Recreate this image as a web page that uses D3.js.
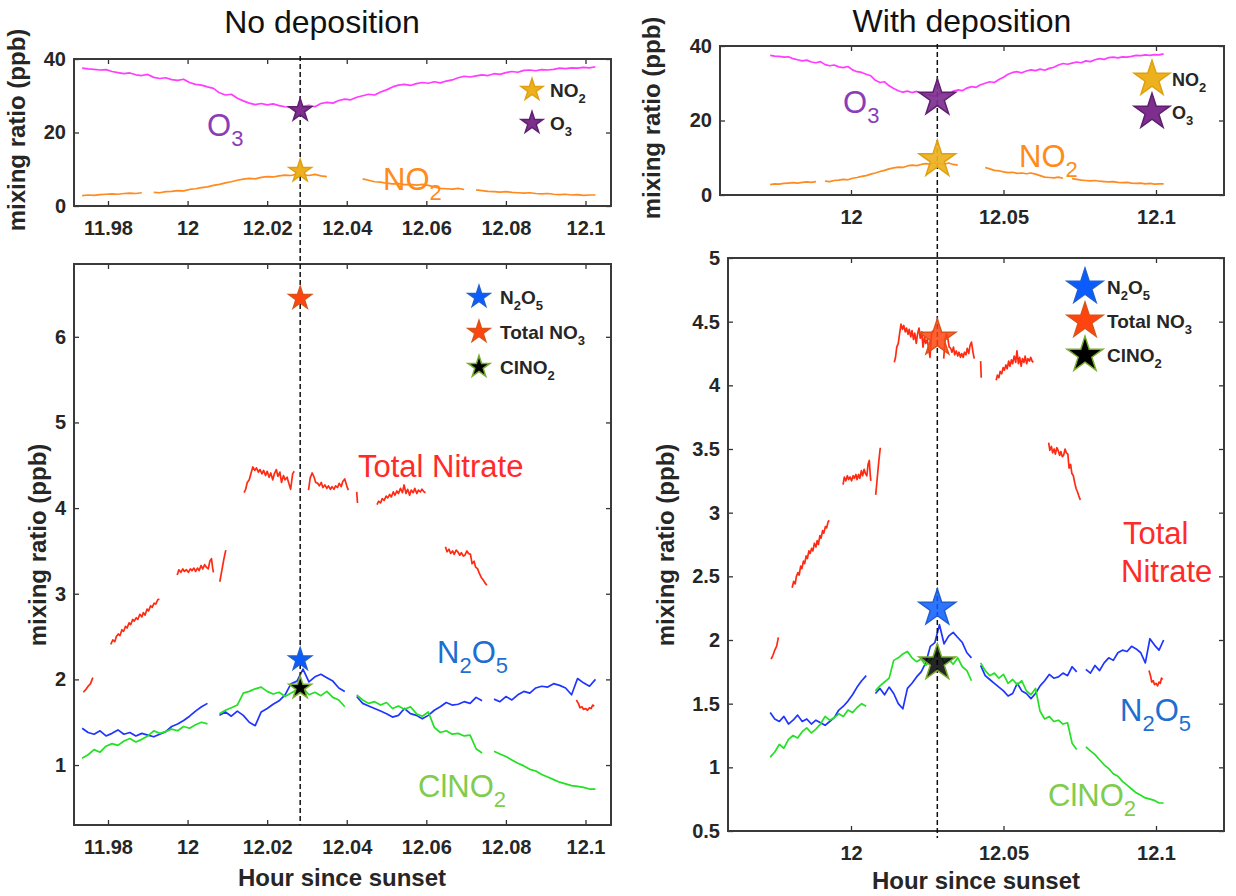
<!DOCTYPE html>
<html><head><meta charset="utf-8">
<script src="https://cdn.jsdelivr.net/npm/d3@7"></script>
<style>body{margin:0;background:#fff}svg{display:block}text{font-family:"Liberation Sans",Arial,Helvetica,sans-serif}</style>
</head><body><svg id="c" width="1236" height="896"></svg>
<script>
// ---------------- data ----------------
const hours = [
 11.9735,11.9750,11.9765,11.9780,11.9795,11.9810,11.9825,11.9840,11.9855,11.9870,
 11.9885,11.9900,11.9915,11.9930,11.9945,11.9960,11.9975,11.9990,12.0005,12.0020,
 12.0035,12.0050,12.0065,12.0080,12.0095,12.0110,12.0125,12.0140,12.0155,12.0170,
 12.0185,12.0200,12.0215,12.0230,12.0245,12.0260,12.0275,12.0290,12.0305,12.0320,
 12.0335,12.0350,12.0365,12.0380,12.0395,12.0410,12.0425,12.0440,12.0455,12.0470,
 12.0485,12.0500,12.0515,12.0530,12.0545,12.0560,12.0575,12.0590,12.0605,12.0620,
 12.0635,12.0650,12.0665,12.0680,12.0695,12.0710,12.0725,12.0740,12.0755,12.0770,
 12.0785,12.0800,12.0815,12.0830,12.0845,12.0860,12.0875,12.0890,12.0905,12.0920,
 12.0935,12.0950,12.0965,12.0980,12.0995,12.1010,12.1025];
const o3 = [
 37.5,37.3,37.2,37.0,37.1,36.6,36.3,36.0,36.2,35.7,
 35.5,35.8,35.0,34.7,34.9,34.4,34.2,34.5,33.6,33.1,
 32.9,32.4,32.0,30.8,30.2,30.4,29.3,28.6,28.0,27.6,
 27.9,27.5,27.8,27.3,27.0,26.8,26.5,27.1,27.4,27.0,
 27.9,28.2,28.0,28.7,29.1,28.9,29.6,30.0,30.4,30.2,
 31.0,31.6,32.4,32.9,33.1,32.8,33.3,33.6,33.4,33.8,
 33.5,34.0,34.3,34.9,35.3,35.1,35.4,35.7,35.5,36.0,
 35.8,36.3,36.6,36.4,36.9,37.0,36.8,37.1,37.0,37.2,
 37.5,37.4,37.6,37.5,37.7,37.6,37.9];
const no2 = [
 2.8,3.0,2.9,3.1,3.2,3.3,3.2,3.4,3.5,3.4,
 3.6,null,3.7,3.6,3.9,4.0,4.2,4.1,4.5,4.7,
 5.0,5.2,5.6,5.9,6.3,6.6,7.0,7.3,7.5,7.4,
 7.8,8.0,7.9,8.2,8.4,8.3,8.7,8.5,8.3,8.6,
 8.2,8.0,null,null,null,null,null,7.4,7.0,6.6,
 6.5,6.2,6.0,6.1,5.8,5.9,5.7,5.9,5.6,5.2,
 4.8,4.7,4.6,4.8,4.5,null,4.4,4.2,4.0,3.9,
 3.8,3.9,3.7,3.6,3.5,3.6,3.4,3.3,3.4,3.2,
 3.1,3.2,3.0,3.1,2.9,3.0,3.0];
const n2o5 = [
 1.43,1.38,1.36,1.40,1.34,1.37,1.41,1.36,1.38,1.34,
 1.37,1.35,1.33,1.36,1.39,1.45,1.48,1.52,1.57,1.63,
 1.68,1.72,null,1.58,1.62,1.57,1.63,1.58,1.50,1.46,
 1.62,1.66,1.71,1.75,1.82,1.95,1.98,2.12,1.97,2.03,
 2.06,2.02,1.98,1.90,1.86,null,1.80,1.72,1.69,1.66,
 1.63,1.60,1.56,1.58,1.66,1.60,1.58,1.54,1.58,1.64,
 1.68,1.73,1.70,1.71,1.74,1.72,1.79,1.75,null,1.77,
 1.74,1.80,1.76,1.82,1.86,1.84,1.90,1.92,1.91,1.95,
 1.93,1.90,1.82,2.01,1.96,1.92,2.00];
const clno2 = [
 1.08,1.12,1.18,1.15,1.22,1.25,1.23,1.28,1.31,1.27,
 1.30,1.34,1.40,1.37,1.39,1.42,1.40,1.45,1.43,1.47,
 1.50,1.48,null,1.60,1.64,1.67,1.70,1.84,1.86,1.89,
 1.91,1.86,1.83,1.85,1.80,1.84,1.88,1.90,1.82,1.85,
 1.81,1.86,1.79,1.76,1.68,null,1.82,1.76,1.72,1.74,
 1.70,1.73,1.66,1.69,1.65,1.68,1.60,1.57,1.62,1.44,
 1.38,1.40,1.36,1.37,1.34,1.35,1.19,1.14,null,1.16,
 1.13,1.10,1.06,1.02,0.99,0.95,0.93,0.89,0.86,0.83,
 0.80,0.78,0.76,0.75,0.74,0.72,0.72];
// total nitrate: [hour, ppb] pairs, null separates the measured segments
const totalNitrate = [
 [11.9738,1.85],[11.9744,1.88],[11.9750,1.92],[11.9756,1.95],[11.9762,2.02],null,
 [11.9807,2.41],[11.9812,2.46],[11.9817,2.44],[11.9821,2.50],[11.9826,2.53],[11.9830,2.51],[11.9835,2.58],
 [11.9839,2.56],[11.9844,2.62],[11.9848,2.60],[11.9853,2.66],[11.9857,2.64],[11.9862,2.70],[11.9866,2.68],
 [11.9871,2.72],[11.9875,2.70],[11.9880,2.76],[11.9885,2.73],[11.9889,2.78],[11.9893,2.75],[11.9898,2.82],
 [11.9902,2.80],[11.9907,2.86],[11.9911,2.84],[11.9916,2.89],[11.9920,2.88],[11.9925,2.93],[11.9929,2.94],null,
 [11.9974,3.22],[11.9978,3.28],[11.9983,3.25],[11.9988,3.29],[11.9992,3.26],[11.9997,3.28],[12.0002,3.25],
 [12.0007,3.29],[12.0011,3.27],[12.0016,3.30],[12.0020,3.26],[12.0025,3.30],[12.0029,3.27],[12.0034,3.33],
 [12.0038,3.29],[12.0043,3.34],[12.0047,3.31],[12.0052,3.29],[12.0056,3.38],[12.0060,3.41],[12.0063,3.30],[12.0065,3.25],null,
 [12.0081,3.14],[12.0086,3.27],[12.0091,3.40],[12.0096,3.51],null,
 [12.0142,4.18],[12.0146,4.22],[12.0150,4.30],[12.0155,4.33],[12.0159,4.40],[12.0164,4.48],[12.0169,4.44],
 [12.0173,4.47],[12.0178,4.42],[12.0182,4.45],[12.0187,4.40],[12.0191,4.44],[12.0196,4.38],[12.0200,4.43],
 [12.0205,4.36],[12.0209,4.41],[12.0214,4.33],[12.0218,4.40],[12.0223,4.45],[12.0227,4.37],[12.0232,4.42],
 [12.0236,4.30],[12.0241,4.38],[12.0245,4.33],[12.0250,4.36],[12.0255,4.28],[12.0259,4.22],[12.0264,4.40],[12.0268,4.43],null,
 [12.0304,4.21],[12.0308,4.35],[12.0313,4.41],[12.0318,4.36],[12.0322,4.30],[12.0327,4.29],[12.0331,4.26],
 [12.0336,4.30],[12.0340,4.24],[12.0345,4.27],[12.0350,4.23],[12.0354,4.26],[12.0359,4.22],[12.0363,4.25],
 [12.0368,4.22],[12.0372,4.26],[12.0377,4.24],[12.0381,4.29],[12.0386,4.25],[12.0390,4.31],[12.0395,4.34],
 [12.0400,4.26],[12.0404,4.21],null,
 [12.0425,4.19],[12.0427,4.06],null,
 [12.0476,4.04],[12.0480,4.08],[12.0485,4.06],[12.0489,4.11],[12.0494,4.09],[12.0499,4.14],[12.0503,4.12],
 [12.0508,4.16],[12.0512,4.13],[12.0517,4.19],[12.0521,4.15],[12.0526,4.20],[12.0530,4.17],[12.0535,4.23],
 [12.0540,4.18],[12.0544,4.27],[12.0549,4.17],[12.0553,4.22],[12.0558,4.15],[12.0562,4.21],[12.0567,4.18],
 [12.0571,4.23],[12.0576,4.17],[12.0580,4.21],[12.0585,4.19],[12.0589,4.22],[12.0594,4.19],[12.0598,4.18],null,
 [12.0648,3.55],[12.0652,3.49],[12.0657,3.52],[12.0661,3.47],[12.0666,3.50],[12.0670,3.46],[12.0675,3.51],
 [12.0679,3.49],[12.0684,3.45],[12.0688,3.48],[12.0693,3.44],[12.0697,3.45],[12.0702,3.50],[12.0706,3.47],
 [12.0711,3.46],[12.0715,3.35],[12.0720,3.38],[12.0724,3.31],[12.0729,3.29],[12.0733,3.24],[12.0738,3.19],
 [12.0743,3.16],[12.0747,3.13],[12.0752,3.10],null,
 [12.0977,1.76],[12.0982,1.72],[12.0986,1.67],[12.0991,1.68],[12.0995,1.65],[12.1000,1.66],[12.1005,1.64],
 [12.1010,1.67],[12.1014,1.66],[12.1018,1.70],[12.1022,1.69]];

const markerHour = 12.0283;
const gasSpecies = ["NO_2","O_3"];
const leftGasStars = [9.5, 26];
const rightGasStars = [9.5, 26];
const aerSpecies = ["N_2O_5","Total NO_3","ClNO_2"];
const leftAerStars = [2.23, 6.45, 1.9];
const rightAerStars = [2.25, 4.37, 1.82];

const leftXTicks = [11.98, 12, 12.02, 12.04, 12.06, 12.08, 12.1];
const rightXTicks = [12, 12.05, 12.1];
const gasYTicks = [0, 20, 40];
const leftAerYTicks = [1, 2, 3, 4, 5, 6];
const rightAerYTicks = [0.5, 1, 1.5, 2, 2.5, 3, 3.5, 4, 4.5, 5];

// ---------------- drawing ----------------
const svg = d3.select("#c");
const AX = "#262626";
const C = {o3:"#ff3cff", no2:"#ff8a1e", n2o5:"#1f35ff", clno2:"#22e022", nit:"#ff2a12",
  o3Txt:"#8b3db8", no2Txt:"#ff8c1a", nitTxt:"#ff2a2a", n2o5Txt:"#1e6fd0", clTxt:"#80cc4e"};
const starFill = {"NO_2":"#edb120","O_3":"#7e2f8e","N_2O_5":"#0a5cff","Total NO_3":"#ff4410","ClNO_2":"#000000"};
const starEdge = {"NO_2":"#e0a010","O_3":"#5e1f70","N_2O_5":"#1f5fd0","Total NO_3":"#d95319","ClNO_2":"#77ac30"};

function parts(str){
  const out=[]; const re=/_(\d)/g; let last=0, m;
  while((m=re.exec(str))){ if(m.index>last) out.push([str.slice(last,m.index),0]); out.push([m[1],1]); last=re.lastIndex; }
  if(last<str.length) out.push([str.slice(last),0]);
  return out;
}
function rich(g, x, y, str, size, subSize, color, weight, anchor){
  const t = g.append("text").attr("x",x).attr("y",y).attr("font-size",size).attr("fill",color)
    .attr("font-weight",weight||"normal").attr("text-anchor",anchor||"start");
  const shift = Math.round(size*0.32);
  let down=false;
  parts(str).forEach(([s,sub])=>{
    const sp = t.append("tspan").text(s).attr("font-size", sub?subSize:size);
    if(sub && !down){ sp.attr("dy", shift); down=true; }
    else if(!sub && down){ sp.attr("dy", -shift); down=false; }
  });
  return t;
}
const fmt = d => String(+d.toFixed(2));

function panel(o){
  const g = svg.append("g");
  const x = d3.scaleLinear().domain(o.xAnchor).range(o.xAnchorPx);
  const y = d3.scaleLinear().domain(o.yDomain).range([o.y1, o.y0]);
  const styleAxis = sel => {
    sel.select(".domain").remove();
    sel.selectAll(".tick line").attr("stroke","#333").attr("stroke-width",1.3);
    sel.selectAll(".tick text").attr("font-size",20).attr("font-weight","bold").attr("fill",AX)
      .attr("font-family",'"Liberation Sans",Arial,sans-serif');
  };
  g.append("g").attr("transform",`translate(0,${o.y1})`)
    .call(d3.axisBottom(x).tickValues(o.xTicks).tickFormat(fmt).tickSizeInner(-5).tickSizeOuter(0).tickPadding(15)).call(styleAxis);
  g.append("g").attr("transform",`translate(0,${o.y0})`)
    .call(d3.axisTop(x).tickValues(o.xTicks).tickFormat("").tickSizeInner(-5).tickSizeOuter(0)).call(styleAxis);
  g.append("g").attr("transform",`translate(${o.x0},0)`)
    .call(d3.axisLeft(y).tickValues(o.yTicks).tickFormat(fmt).tickSizeInner(-5).tickSizeOuter(0).tickPadding(8)).call(styleAxis);
  g.append("g").attr("transform",`translate(${o.x1},0)`)
    .call(d3.axisRight(y).tickValues(o.yTicks).tickFormat("").tickSizeInner(-5).tickSizeOuter(0)).call(styleAxis);
  g.append("rect").attr("x",o.x0).attr("y",o.y0).attr("width",o.x1-o.x0).attr("height",o.y1-o.y0)
    .attr("fill","none").attr("stroke","#3a3a3a").attr("stroke-width",2);
  return {g,x,y};
}

function series(p, arr, color){
  const data = hours.map((h,i)=>[h, arr[i]]);
  p.g.append("path").datum(data)
    .attr("d", d3.line().defined(d=>d[1]!==null).x(d=>p.x(d[0])).y(d=>p.y(d[1])))
    .attr("fill","none").attr("stroke",color).attr("stroke-width",1.7).attr("stroke-linejoin","round");
}
function pairs(p, arr, color){
  p.g.append("path").datum(arr)
    .attr("d", d3.line().defined(d=>d!==null).x(d=>p.x(d[0])).y(d=>p.y(d[1])))
    .attr("fill","none").attr("stroke",color).attr("stroke-width",1.7).attr("stroke-linejoin","round");
}
function star(g, cx, cy, sp, size, opacity){
  g.append("path").attr("d", d3.symbol(d3.symbolStar, size)())
    .attr("transform",`translate(${cx},${cy})`)
    .attr("fill", starFill[sp]).attr("stroke", starEdge[sp]).attr("stroke-width",1.5)
    .attr("fill-opacity", opacity||1);
}

// ---- left column (No deposition)
const LT = panel({x0:74,x1:611,y0:59,y1:206, xAnchor:[11.98,12.1], xAnchorPx:[108,585.5],
  yDomain:[0,40], xTicks:leftXTicks, yTicks:gasYTicks});
const LB = panel({x0:74,x1:611,y0:264,y1:825, xAnchor:[11.98,12.1], xAnchorPx:[108,585.5],
  yDomain:[0.3,6.85], xTicks:leftXTicks, yTicks:leftAerYTicks});
// ---- right column (With deposition)
const RT = panel({x0:720,x1:1224,y0:46,y1:195, xAnchor:[12,12.1], xAnchorPx:[851,1156],
  yDomain:[0,40], xTicks:rightXTicks, yTicks:gasYTicks});
const RB = panel({x0:728,x1:1224,y0:258,y1:831, xAnchor:[12,12.1], xAnchorPx:[851,1156],
  yDomain:[0.5,5], xTicks:rightXTicks, yTicks:rightAerYTicks});

[LT, RT].forEach(p=>{ series(p,o3,C.o3); series(p,no2,C.no2); });
[LB, RB].forEach(p=>{ pairs(p,totalNitrate,C.nit); series(p,n2o5,C.n2o5); series(p,clno2,C.clno2); });

// dashed marker lines
const mxL = LT.x(markerHour), mxR = RT.x(markerHour);
svg.append("line").attr("x1",mxL).attr("x2",mxL).attr("y1",56).attr("y2",825)
  .attr("stroke","#111").attr("stroke-width",1.5).attr("stroke-dasharray","5,3");
svg.append("line").attr("x1",mxR).attr("x2",mxR).attr("y1",44).attr("y2",838)
  .attr("stroke","#111").attr("stroke-width",1.5).attr("stroke-dasharray","5,3");

// stars on the marker
gasSpecies.forEach((sp,i)=>{ star(svg, mxL, LT.y(leftGasStars[i]), sp, 160); star(svg, mxR, RT.y(rightGasStars[i]), sp, 420, 0.92); });
aerSpecies.forEach((sp,i)=>{ star(svg, mxL, LB.y(leftAerStars[i]), sp, 160); star(svg, mxR, RB.y(rightAerStars[i]), sp, 420, 0.85); });

// legends
gasSpecies.forEach((sp,i)=>{
  star(svg, 532, 90+i*33, sp, 150);
  rich(svg, 550, 97+i*33, sp, 19, 13, AX, "bold");
  star(svg, 1152, 79+i*33, sp, 400);
  rich(svg, 1172, 86+i*33, sp, 18, 13, AX, "bold");
});
aerSpecies.forEach((sp,i)=>{
  star(svg, 479, 297+i*35, sp, 150);
  rich(svg, 500, 304+i*35, sp, 19, 13, AX, "bold");
  star(svg, 1085, 287+i*34, sp, 400);
  rich(svg, 1107, 294+i*34, sp, 19, 13, AX, "bold");
});

// titles
svg.append("text").attr("x",322).attr("y",33).attr("text-anchor","middle").attr("font-size",32).attr("fill","#111").text("No deposition");
svg.append("text").attr("x",962).attr("y",32).attr("text-anchor","middle").attr("font-size",32).attr("fill","#111").text("With deposition");

// axis titles
function ylab(x, y, size){
  svg.append("text").attr("transform",`translate(${x},${y}) rotate(-90)`).attr("text-anchor","middle")
    .attr("font-size",size).attr("font-weight","bold").attr("fill",AX).text("mixing ratio (ppb)");
}
ylab(25, 130, 24); ylab(46, 545, 24); ylab(660, 118, 24); ylab(674, 545, 24);
svg.append("text").attr("x",342).attr("y",886).attr("text-anchor","middle").attr("font-size",24).attr("font-weight","bold").attr("fill",AX).text("Hour since sunset");
svg.append("text").attr("x",976).attr("y",889).attr("text-anchor","middle").attr("font-size",24).attr("font-weight","bold").attr("fill",AX).text("Hour since sunset");

// in-plot annotations
rich(svg, 207, 136, "O_3", 31, 22, C.o3Txt);
rich(svg, 383, 190, "NO_2", 31, 22, C.no2Txt);
rich(svg, 843, 113, "O_3", 31, 22, C.o3Txt);
rich(svg, 1019, 167, "NO_2", 31, 22, C.no2Txt);
svg.append("text").attr("x",358).attr("y",477).attr("font-size",31).attr("fill",C.nitTxt).text("Total Nitrate");
rich(svg, 437, 663, "N_2O_5", 31, 22, C.n2o5Txt);
rich(svg, 418, 797, "ClNO_2", 31, 22, C.clTxt);
svg.append("text").attr("x",1123).attr("y",544).attr("font-size",31).attr("fill",C.nitTxt).text("Total");
svg.append("text").attr("x",1121).attr("y",582).attr("font-size",31).attr("fill",C.nitTxt).text("Nitrate");
rich(svg, 1120, 721, "N_2O_5", 31, 22, C.n2o5Txt);
rich(svg, 1048, 806, "ClNO_2", 31, 22, C.clTxt);
</script></body></html>
